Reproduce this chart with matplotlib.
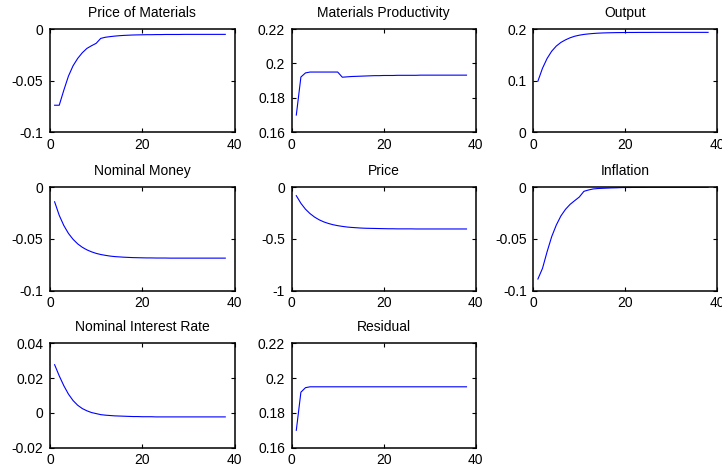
import matplotlib
matplotlib.use("Agg")
import matplotlib.pyplot as plt
import numpy as np

plt.rcParams['font.family'] = ['Liberation Sans', 'DejaVu Sans']

# impulse responses, periods 1..38
periods = np.arange(1, 39)

price_materials = [-0.0738, -0.0738, -0.0592, -0.0456, -0.0356, -0.0285, -0.0230, -0.0188,
                   -0.0162, -0.0139, -0.0091, -0.0080, -0.0074, -0.0069, -0.0065, -0.0062,
                   -0.0060, -0.0058, -0.0057, -0.0056, -0.0055, -0.0055, -0.0054, -0.0054,
                   -0.0053, -0.0053, -0.0053, -0.0053, -0.0052, -0.0052, -0.0052, -0.0052,
                   -0.0052, -0.0052, -0.0052, -0.0052, -0.0052, -0.0052]

materials_productivity = [0.1700, 0.1921, 0.1945, 0.1950, 0.1950, 0.1950, 0.1950, 0.1950,
                          0.1950, 0.1950, 0.1920, 0.1922, 0.1924, 0.1925, 0.1926, 0.1927,
                          0.1928, 0.1929, 0.1929, 0.1930, 0.1930, 0.1930, 0.1931, 0.1931,
                          0.1931, 0.1931, 0.1931, 0.1932, 0.1932, 0.1932, 0.1932, 0.1932,
                          0.1932, 0.1932, 0.1932, 0.1932, 0.1932, 0.1932]

output = [0.0990, 0.1240, 0.1430, 0.1570, 0.1670, 0.1740, 0.1790, 0.1830,
          0.1860, 0.1880, 0.1895, 0.1905, 0.1913, 0.1919, 0.1923, 0.1926,
          0.1928, 0.1930, 0.1931, 0.1932, 0.1933, 0.1933, 0.1934, 0.1934,
          0.1934, 0.1935, 0.1935, 0.1935, 0.1935, 0.1935, 0.1935, 0.1935,
          0.1935, 0.1935, 0.1935, 0.1935, 0.1935, 0.1935]

nominal_money = [-0.0140, -0.0271, -0.0370, -0.0446, -0.0503, -0.0547, -0.0580, -0.0605,
                 -0.0624, -0.0639, -0.0650, -0.0658, -0.0665, -0.0670, -0.0673, -0.0676,
                 -0.0678, -0.0680, -0.0681, -0.0682, -0.0683, -0.0683, -0.0684, -0.0684,
                 -0.0684, -0.0685, -0.0685, -0.0685, -0.0685, -0.0685, -0.0685, -0.0685,
                 -0.0685, -0.0685, -0.0685, -0.0685, -0.0685, -0.0685]

price = [-0.081, -0.155, -0.212, -0.255, -0.289, -0.315, -0.335, -0.350,
         -0.362, -0.371, -0.378, -0.384, -0.388, -0.391, -0.394, -0.396,
         -0.397, -0.398, -0.399, -0.400, -0.401, -0.401, -0.402, -0.402,
         -0.402, -0.402, -0.403, -0.403, -0.403, -0.403, -0.403, -0.403,
         -0.403, -0.403, -0.403, -0.403, -0.403, -0.403]

inflation = [-0.0887, -0.0784, -0.0623, -0.0477, -0.0365, -0.0277, -0.0213, -0.0165,
             -0.0129, -0.0094, -0.0039, -0.0026, -0.0016, -0.0012, -0.0010, -0.0008,
             -0.0006, -0.0005, -0.0003, -0.0002, -0.0002, -0.0001, -0.0001, -0.0001,
             0.0000, 0.0000, 0.0000, 0.0000, 0.0000, 0.0000, 0.0000, 0.0000,
             0.0000, 0.0000, 0.0000, 0.0000, 0.0000, 0.0000]

interest_rate = [0.0277, 0.0213, 0.0156, 0.0108, 0.0071, 0.0044, 0.0025, 0.0012,
                 0.0002, -0.0004, -0.0010, -0.0013, -0.0015, -0.0017, -0.0018, -0.0019,
                 -0.0020, -0.0021, -0.0021, -0.0022, -0.0022, -0.0022, -0.0023, -0.0023,
                 -0.0023, -0.0023, -0.0023, -0.0023, -0.0023, -0.0023, -0.0023, -0.0023,
                 -0.0023, -0.0023, -0.0023, -0.0023, -0.0023, -0.0023]

residual = [0.1700, 0.1919, 0.1945] + [0.1950] * 35

titles = ['Price of Materials', 'Materials Productivity', 'Output',
          'Nominal Money', 'Price', 'Inflation',
          'Nominal Interest Rate', 'Residual']
series = [price_materials, materials_productivity, output,
          nominal_money, price, inflation,
          interest_rate, residual]
yticks = [[-0.1, -0.05, 0], [0.16, 0.18, 0.2, 0.22], [0, 0.1, 0.2],
          [-0.1, -0.05, 0], [-1, -0.5, 0], [-0.1, -0.05, 0],
          [-0.02, 0, 0.02, 0.04], [0.16, 0.18, 0.2, 0.22]]
ytick_labels = [['-0.1', '-0.05', '0'], ['0.16', '0.18', '0.2', '0.22'], ['0', '0.1', '0.2'],
                ['-0.1', '-0.05', '0'], ['-1', '-0.5', '0'], ['-0.1', '-0.05', '0'],
                ['-0.02', '0', '0.02', '0.04'], ['0.16', '0.18', '0.2', '0.22']]
xticks = [0, 20, 40]
xtick_labels = ['0', '20', '40']

W, H = 722, 468
fig = plt.figure(figsize=(W / 100, H / 100), dpi=100)

# panel boxes in pixels: left, right / top, bottom
col_x = [(50, 234.5), (291.7, 475.7), (533.3, 717.3)]
row_y = [(29, 132.3), (187.3, 290.7), (343.3, 447.7)]

for i, (title, y) in enumerate(zip(titles, series)):
    r, c = divmod(i, 3)
    x0, x1 = col_x[c]
    t0, b0 = row_y[r]
    ax = fig.add_axes([x0 / W, 1 - b0 / H, (x1 - x0) / W, (b0 - t0) / H])
    ax.plot(periods, y, color='#0000ff', lw=0.8)
    ax.set_xlim(0, 40)
    ax.set_ylim(yticks[i][0], yticks[i][-1])
    ax.set_xticks(xticks)
    ax.set_xticklabels(xtick_labels)
    ax.set_yticks(yticks[i])
    ax.set_yticklabels(ytick_labels[i])
    ax.tick_params(direction='in', top=True, right=True, length=3, width=0.8,
                   labelsize=10, colors='black')
    ax.tick_params(axis='x', pad=4)
    ax.tick_params(axis='y', pad=4.8)
    for s in ax.spines.values():
        s.set_linewidth(1.1)
    ax.set_title(title, fontsize=10, pad=8.5)

fig.savefig('out.png', dpi=100)
